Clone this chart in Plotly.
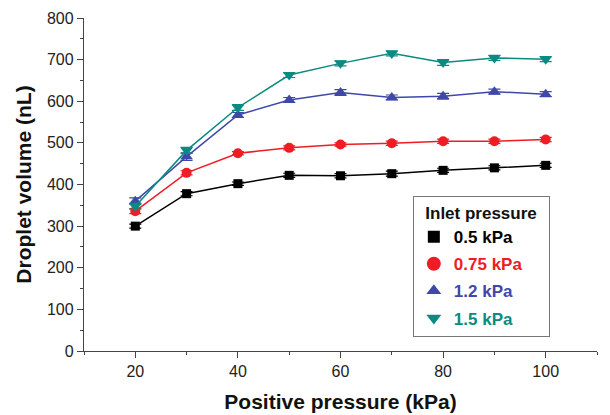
import plotly.graph_objects as go

positive_pressure = [20, 30, 40, 50, 60, 70, 80, 90, 100]

vol_05 = [300, 378, 402, 422, 421, 426, 434, 440, 446]
vol_075 = [336, 428, 475, 488, 496, 499, 504, 504, 508]
vol_12 = [360, 467, 567, 603, 621, 609, 612, 623, 617]
vol_15 = [348, 482, 585, 663, 691, 715, 693, 704, 701]

err_05 = [5, 5, 4, 5, 5, 6, 5, 5, 5]
err_075 = [6, 5, 4, 5, 4, 5, 5, 5, 5]
err_12 = [8, 9, 6, 6, 7, 6, 7, 6, 6]
err_15 = [7, 7, 7, 6, 6, 6, 7, 6, 6]

series_names = ["0.5 kPa", "0.75 kPa", "1.2 kPa", "1.5 kPa"]
series_vals = [vol_05, vol_075, vol_12, vol_15]
series_errs = [err_05, err_075, err_12, err_15]
colors = ["#000000", "#EE1C25", "#3F48A8", "#0A8A80"]
symbols = ["square", "circle", "triangle-up", "triangle-down"]
sizes = [9, 10, 11, 11]
legend_sizes = [12, 14, 13, 13]

fig = go.Figure()

for name, vals, errs, c, s, sz in zip(series_names, series_vals, series_errs, colors, symbols, sizes):
    fig.add_trace(go.Scatter(
        x=positive_pressure, y=vals, mode="lines+markers",
        line=dict(color=c, width=1.5),
        marker=dict(color=c, symbol=s, size=sz),
        error_y=dict(type="data", array=errs, color=c, thickness=1.2, width=6),
        showlegend=False,
    ))

for i, (name, c, s, sz) in enumerate(zip(series_names, colors, symbols, legend_sizes)):
    fig.add_trace(go.Scatter(
        x=[None], y=[None], mode="markers",
        marker=dict(color=c, symbol=s, size=sz),
        name=f"<b><span style='color:{c}'>{name}</span></b>",
        legendgroup=f"g{i}",
        showlegend=True,
    ))

axis_font = dict(family="Liberation Sans, Arial", size=16, color="#222")
title_font = dict(family="Liberation Sans, Arial", size=21, color="#111")

# page body has an 8px default margin; the figure is sized to fill the rest
fig.update_layout(
    width=602, height=407,
    margin=dict(l=76, r=13, t=10, b=64),
    paper_bgcolor="white", plot_bgcolor="white",
    xaxis=dict(
        range=[10, 110], tickvals=[20, 40, 60, 80, 100],
        ticks="outside", ticklen=6, tickwidth=1.2, tickcolor="#444",
        minor=dict(ticks="outside", ticklen=3, dtick=10, tick0=0, tickcolor="#444", tickwidth=1.2),
        showline=True, linecolor="#444", linewidth=1.3, showgrid=False, zeroline=False,
        tickfont=axis_font, automargin=False,
        title=dict(text="<b>Positive pressure (kPa)</b>", font=title_font, standoff=14),
    ),
    yaxis=dict(
        range=[0, 800], dtick=100,
        ticks="outside", ticklen=6, tickwidth=1.2, tickcolor="#444",
        minor=dict(ticks="outside", ticklen=3, dtick=50, tickcolor="#444", tickwidth=1.2),
        showline=True, linecolor="#444", linewidth=1.3, showgrid=False, zeroline=False,
        tickfont=axis_font, automargin=False,
        title=dict(text="<b>Droplet volume (nL)</b>", font=title_font, standoff=9),
    ),
    legend=dict(
        x=0.641, y=0.4655, xanchor="left", yanchor="top",
        bordercolor="#777", borderwidth=1, bgcolor="white",
        font=dict(family="Liberation Sans, Arial", size=17),
        title=dict(text="&nbsp;&nbsp;<b>Inlet pressure</b>&nbsp;&nbsp;",
                   font=dict(family="Liberation Sans, Arial", size=17, color="#111")),
        traceorder="grouped", tracegroupgap=2, itemwidth=30,
    ),
)

fig.write_html("out.html")
